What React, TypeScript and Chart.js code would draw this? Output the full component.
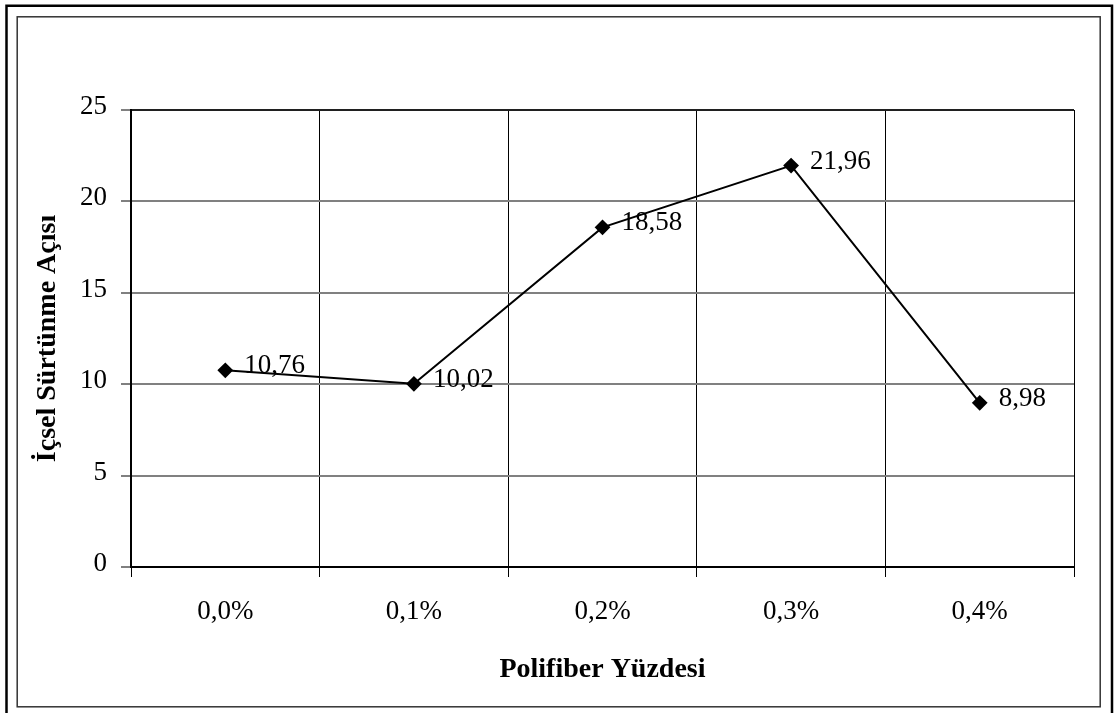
import React, { useEffect, useRef } from "react";
import { Chart, registerables } from "chart.js";

Chart.register(...registerables);

const categories = ["0,0%", "0,1%", "0,2%", "0,3%", "0,4%"];
const values = [10.76, 10.02, 18.58, 21.96, 8.98];
const yTicks = [0, 5, 10, 15, 20, 25];
const xTitle = "Polifiber Yüzdesi";
const yTitle = "İçsel Sürtünme Açısı";

const FONT = "'Liberation Serif', 'Times New Roman', serif";

const framePlugin = {
  id: "frames",
  beforeDraw(chart: any) {
    const ctx = chart.ctx;
    ctx.save();
    ctx.fillStyle = "#fff";
    ctx.fillRect(0, 0, chart.width, chart.height);
    ctx.restore();
  },
  afterDraw(chart: any) {
    const ctx = chart.ctx;
    const a = chart.chartArea;
    ctx.save();
    ctx.strokeStyle = "#000";
    ctx.lineWidth = 1.5;
    ctx.beginPath();
    ctx.moveTo(a.left, a.top);
    ctx.lineTo(a.right, a.top);
    ctx.stroke();
    ctx.lineWidth = 2.5;
    ctx.strokeStyle = "#000";
    ctx.beginPath();
    ctx.moveTo(6.5, 730);
    ctx.lineTo(6.5, 5.8);
    ctx.lineTo(1112, 5.8);
    ctx.lineTo(1112, 730);
    ctx.stroke();
    ctx.lineWidth = 1.5;
    ctx.strokeStyle = "#333";
    ctx.strokeRect(17.2, 16.8, 1083, 690);
    ctx.restore();
  },
};

const labelPlugin = {
  id: "pointLabels",
  afterDatasetsDraw(chart: any) {
    const ctx = chart.ctx;
    const meta = chart.getDatasetMeta(0);
    ctx.save();
    ctx.font = `27px ${FONT}`;
    ctx.fillStyle = "#000";
    ctx.textAlign = "left";
    ctx.textBaseline = "middle";
    meta.data.forEach((pt: any, i: number) => {
      const txt = values[i].toFixed(2).replace(".", ",");
      ctx.fillText(txt, pt.x + 19, pt.y - 4);
    });
    ctx.restore();
  },
};

export default function App() {
  const ref = useRef<HTMLCanvasElement | null>(null);
  useEffect(() => {
    if (!ref.current) return;
    const chart = new Chart(ref.current, {
      type: "line",
      data: {
        labels: categories,
        datasets: [
          {
            data: values,
            borderColor: "#000",
            borderWidth: 2,
            backgroundColor: "#000",
            pointStyle: "rectRot",
            pointRadius: 6.5,
            pointBackgroundColor: "#000",
            pointBorderColor: "#000",
            tension: 0,
          },
        ],
      },
      options: {
        responsive: false,
        animation: false,
        devicePixelRatio: 1,
        layout: { padding: { top: 110, right: 42, left: 0, bottom: 0 } },
        plugins: {
          legend: { display: false },
          tooltip: { enabled: false },
        },
        scales: {
          x: {
            type: "category",
            offset: true,
            grid: { offset: true, color: "#000", lineWidth: 1, tickLength: 10 },
            border: { color: "#000", width: 2 },
            ticks: { font: { family: FONT, size: 27 }, color: "#000", padding: 19, maxRotation: 0 },
            title: {
              display: true,
              text: xTitle,
              color: "#000",
              font: { family: FONT, size: 28, weight: "bold" },
              padding: { top: 0, bottom: 26 },
            },
            afterFit: (s: any) => {
              s.height = 146;
            },
          },
          y: {
            min: 0,
            max: 25,
            afterBuildTicks: (s: any) => {
              s.ticks = yTicks.map((v) => ({ value: v }));
            },
            grid: { color: "#808080", lineWidth: 2, tickLength: 10 },
            border: { color: "#000", width: 2 },
            ticks: {
              font: { family: FONT, size: 27 },
              color: "#000",
              padding: 14,
              labelOffset: -3,
            },
            title: {
              display: true,
              text: yTitle,
              color: "#000",
              font: { family: FONT, size: 28, weight: "bold" },
              padding: { top: 31, bottom: 0 },
            },
            afterFit: (s: any) => {
              s.width = 131;
            },
          },
        },
      },
      plugins: [framePlugin, labelPlugin],
    } as any);
    return () => chart.destroy();
  }, []);
  return (
    <div style={{ position: "fixed", left: 0, top: 0, width: 1116, height: 713 }}>
      <canvas ref={ref} width={1116} height={713} style={{ display: "block" }} />
    </div>
  );
}
